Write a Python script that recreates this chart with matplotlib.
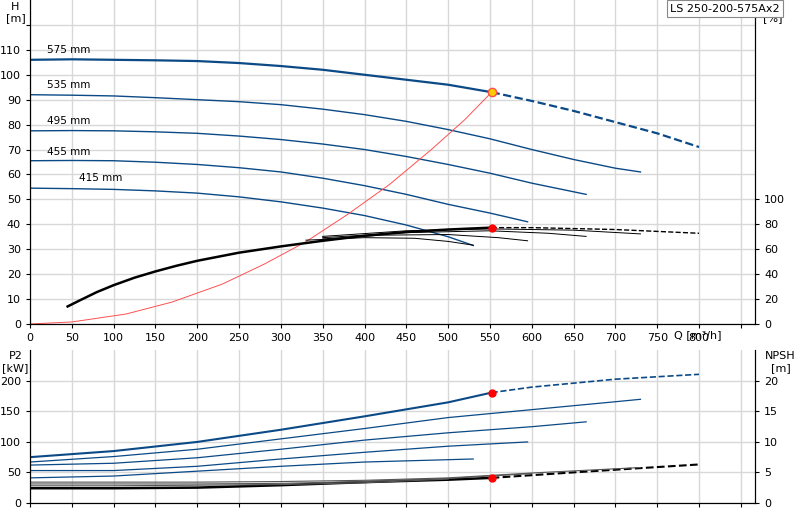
import numpy as np
import matplotlib.pyplot as plt

# ---- data ----
diam_labels = ['575 mm', '535 mm', '495 mm', '455 mm', '415 mm']

q_575 = [0, 50, 100, 150, 200, 250, 300, 350, 400, 450, 500, 552]
h_575 = [106, 106.2, 106, 105.8, 105.5, 104.7, 103.5, 102, 100, 98, 96, 93]
q_575_ext = [552, 600, 650, 700, 750, 800]
h_575_ext = [93, 89.5, 85.5, 81, 76.5, 71]

q_535 = [0, 50, 100, 150, 200, 250, 300, 350, 400, 450, 500, 550, 600, 650, 700, 730]
h_535 = [92, 91.8, 91.5, 90.8, 90, 89.2, 88, 86.2, 84, 81.3, 78, 74.3, 70, 66, 62.5, 61]
q_495 = [0, 50, 100, 150, 200, 250, 300, 350, 400, 450, 500, 550, 600, 665]
h_495 = [77.5, 77.6, 77.5, 77.1, 76.5, 75.4, 74, 72.2, 70, 67.2, 64, 60.5, 56.5, 52]
q_455 = [0, 50, 100, 150, 200, 250, 300, 350, 400, 450, 500, 550, 595]
h_455 = [65.5, 65.6, 65.5, 64.9, 64, 62.7, 61, 58.5, 55.5, 52, 48, 44.5, 41]
q_415 = [0, 50, 100, 150, 200, 250, 300, 350, 400, 450, 500, 530]
h_415 = [54.5, 54.3, 54, 53.4, 52.5, 51, 49, 46.5, 43.5, 39.7, 35, 31.5]

q_sys = [0, 50, 115, 170, 230, 280, 330, 380, 430, 480, 520, 552]
h_sys = [0, 0.8, 4, 8.8, 16, 24, 33, 44, 56, 70, 82, 93]

# efficiency [%]
q_eta = [45, 60, 80, 100, 125, 150, 175, 200, 250, 300, 350, 400, 450, 500, 552]
eta_575 = [14, 19, 25.5, 31, 37, 42, 46.5, 50.5, 57, 62, 66.5, 70.5, 73.5, 75.5, 77]
q_eta_ext = [552, 600, 700, 800]
eta_575_ext = [77, 77, 75.5, 72.5]
q_eta_535 = [350, 450, 550, 650, 730]
eta_535 = [70, 74.5, 76, 75, 72]
q_eta_495 = [350, 450, 550, 620, 665]
eta_495 = [69, 73, 74.5, 72.5, 70]
q_eta_455 = [350, 420, 500, 560, 595]
eta_455 = [68, 71, 71.5, 69, 66.5]
q_eta_415 = [330, 400, 460, 500, 530]
eta_415 = [67, 69, 68.5, 66, 63]

# power P2 [kW]
q_p575 = [0, 100, 200, 300, 400, 500, 552]
p_575 = [75, 85, 100, 120, 142, 165, 181]
q_p575_ext = [552, 600, 700, 800]
p_575_ext = [181, 190, 203, 211]
q_p535 = [0, 100, 200, 300, 400, 500, 600, 700, 730]
p_535 = [67, 76, 88, 105, 122, 140, 153, 166, 170]
q_p495 = [0, 100, 200, 300, 400, 500, 600, 665]
p_495 = [62, 65, 74, 88, 103, 115, 125, 133]
q_p455 = [0, 100, 200, 300, 400, 500, 595]
p_455 = [53, 53, 60, 72, 83, 93, 100]
q_p415 = [0, 100, 200, 300, 400, 530]
p_415 = [41, 44, 52, 60, 67, 72]

# NPSH [m]
q_n575 = [0, 100, 200, 300, 400, 500, 552]
n_575 = [2.4, 2.4, 2.5, 2.9, 3.4, 3.8, 4.1]
q_n575_ext = [552, 650, 730, 800]
n_575_ext = [4.1, 5.0, 5.7, 6.3]
q_nother = [0, 100, 200, 300, 400, 500, 600, 730]
n_other = [[3.4, 3.4, 3.4, 3.5, 3.7, 4.1, 4.9, 5.8],
           [3.1, 3.1, 3.1, 3.2, 3.5, 4.0, 4.8],
           [2.8, 2.8, 2.9, 3.0, 3.3, 3.9]]

blue = '#0b4a86'
grid_c = '#d8d8d8'

fig = plt.figure(figsize=(8, 5.2), dpi=100)
ax = fig.add_axes([0.0375, 0.377, 0.9063, 0.623])
ax.set_xlim(0, 867)
ax.set_ylim(0, 130)
ax.set_xticks(np.arange(0, 851, 50))
ax.set_xticklabels([str(v) if v <= 800 else '' for v in range(0, 851, 50)], fontsize=8)
ax.set_yticks(np.arange(0, 121, 10))
ax.set_yticklabels([str(v) if v <= 110 else '' for v in range(0, 121, 10)], fontsize=8)
ax.grid(True, color=grid_c, lw=1)
ax.spines['top'].set_visible(False)
ax.tick_params(length=3)

ax.plot(q_575, h_575, color=blue, lw=1.6)
ax.plot(q_575_ext, h_575_ext, color=blue, lw=1.6, ls='--')
for q, h in [(q_535, h_535), (q_495, h_495), (q_455, h_455), (q_415, h_415)]:
    ax.plot(q, h, color=blue, lw=1)
ax.plot(q_sys, h_sys, color='#ff5050', lw=0.7)
for lbl, (q, h) in zip(diam_labels, [(20, 108), (20, 94), (20, 79.5), (20, 67), (58, 56.5)]):
    ax.text(q, h, lbl, fontsize=7.5, va='bottom')
ax.plot([552], [93], 'o', color='#ffcc00', mec='#ff5050', ms=6)
ax.text(-0.02, 0.995, 'H\n[m]', transform=ax.transAxes, fontsize=8, ha='center', va='top')
ax.text(0.888, -0.018, 'Q [m³/h]', transform=ax.transAxes, fontsize=8, ha='left', va='top')

ax2 = ax.twinx()
ax2.set_ylim(0, 259)
ax2.set_yticks(np.arange(0, 101, 20))
ax2.tick_params(labelsize=8, length=3)
ax2.spines['top'].set_visible(False)
ax2.plot(q_eta, eta_575, color='black', lw=1.8)
ax2.plot(q_eta_ext, eta_575_ext, color='black', lw=1, ls='--')
for q, e in [(q_eta_535, eta_535), (q_eta_495, eta_495), (q_eta_455, eta_455), (q_eta_415, eta_415)]:
    ax2.plot(q, e, color='black', lw=0.7)
ax2.plot([552], [77], 'o', color='red', ms=5)
ax2.text(1.025, 0.995, 'eta\n[%]', transform=ax.transAxes, fontsize=8, ha='center', va='top')
fig.text(0.838, 0.993, 'LS 250-200-575Ax2', fontsize=8, va='top',
         bbox=dict(boxstyle='square,pad=0.3', fc='white', ec='#888888', lw=0.8))

bx = fig.add_axes([0.0375, 0.033, 0.9063, 0.294])
bx.set_xlim(0, 867)
bx.set_ylim(0, 251)
bx.set_xticks(np.arange(0, 851, 50))
bx.set_xticklabels([])
bx.set_yticks(np.arange(0, 201, 50))
bx.tick_params(labelsize=8, length=3)
bx.grid(True, color=grid_c, lw=1)
bx.spines['top'].set_visible(False)
bx.plot(q_p575, p_575, color=blue, lw=1.5)
bx.plot(q_p575_ext, p_575_ext, color=blue, lw=1.2, ls='--')
for q, p in [(q_p535, p_535), (q_p495, p_495), (q_p455, p_455), (q_p415, p_415)]:
    bx.plot(q, p, color=blue, lw=0.9)
bx.plot([552], [181], 'o', color='red', ms=5)
bx.text(-0.02, 0.99, 'P2\n[kW]', transform=bx.transAxes, fontsize=8, ha='center', va='top')

bx2 = bx.twinx()
bx2.set_ylim(0, 25.1)
bx2.set_yticks(np.arange(0, 21, 5))
bx2.tick_params(labelsize=8, length=3)
bx2.spines['top'].set_visible(False)
bx2.plot(q_n575, n_575, color='black', lw=1.8)
bx2.plot(q_n575_ext, n_575_ext, color='black', lw=1.5, ls='--')
for n in n_other:
    bx2.plot(q_nother[:len(n)], n, color='#555555', lw=0.8)
bx2.plot([552], [4.1], 'o', color='red', ms=5)
bx2.text(1.035, 0.99, 'NPSH\n[m]', transform=bx.transAxes, fontsize=8, ha='center', va='top')

fig.savefig('out.png', dpi=100)
